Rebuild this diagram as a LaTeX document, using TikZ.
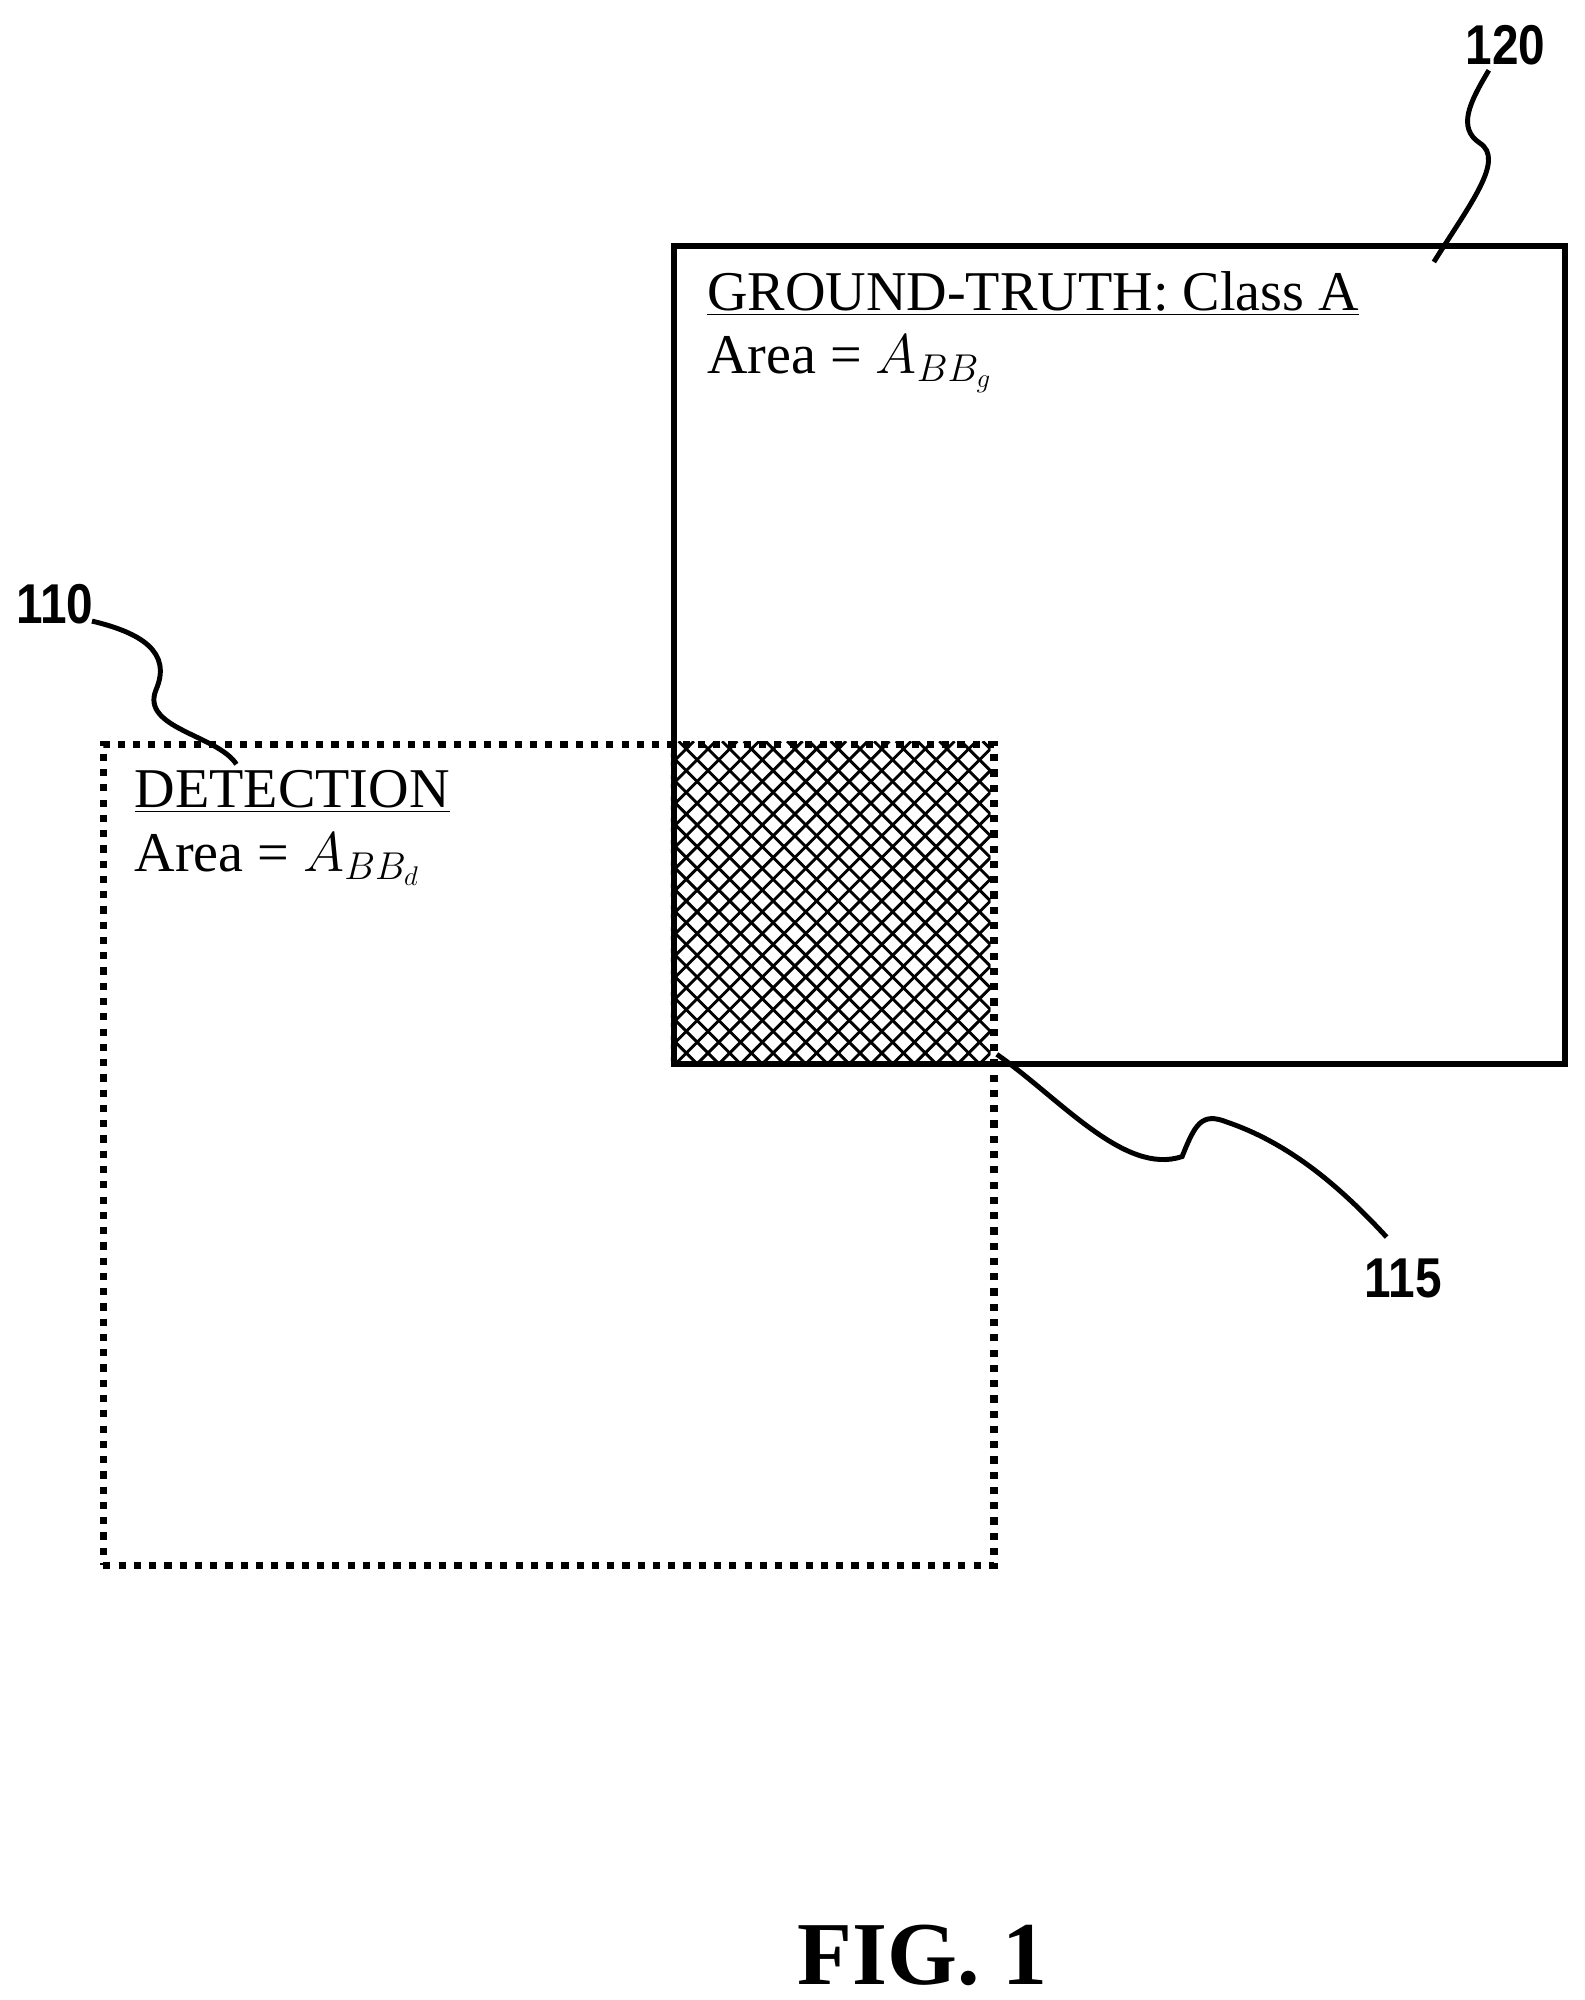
\documentclass[tikz,border=0pt]{standalone}
\usepackage{fontspec}
\setmainfont{Liberation Serif}
\newfontfamily\numfont{Liberation Sans}
\begin{document}
\begin{tikzpicture}[x=0.02cm,y=-0.02cm,
  lbl/.style={anchor=base west,inner sep=0,font=\fontsize{25}{30}\selectfont},
  num/.style={inner sep=0,font=\numfont\bfseries\fontsize{25}{30}\selectfont,xscale=0.85},
  lead/.style={line width=2.2pt}]
\useasboundingbox (0,0) rectangle (1240,1565);
% hatch
\begin{scope}
\clip (525,580) rectangle (775,830);
\foreach \i in {-300,-283,...,300} {
  \draw[line width=1.3pt] (525+\i,580) -- ++(260,260);
  \draw[line width=1.3pt] (775+\i,580) -- ++(-260,260);
}
\end{scope}
\node[draw,line width=2.6pt,minimum width=697*0.02cm,minimum height=640*0.02cm,anchor=north west,inner sep=0] (gt) at (525,190) {};
\node[draw,line width=3.2pt,dash pattern=on 3.2pt off 3.6pt,minimum width=697*0.02cm,minimum height=642*0.02cm,anchor=north west,inner sep=0] (det) at (78,580) {};
\node[lbl] (gtt) at (553,243) {\underline{GROUND-TRUTH: Class A}};
\node[lbl] (gta) at (553,292) {Area = $A_{BB_g}$};
\node[lbl] (dt) at (105,632) {\underline{DETECTION}};
\node[lbl] (da) at (105,682) {Area = $A_{BB_d}$};
\node[num] (n120) at (1178,35) {120};
\node[num] (n110) at (43,473) {110};
\node[num] (n115) at (1098,1000) {115};
\coordinate (e120) at (1122,205);
\coordinate (e110) at (185,598);
\coordinate (e115) at (780,825);
\draw[lead] (1165,55) .. controls (1150,80) and (1140,100) .. (1158,112) .. controls (1178,125) and (1150,160) .. (e120);
\draw[lead] (72,486) .. controls (110,495) and (135,510) .. (122,540) .. controls (110,570) and (170,575) .. (e110);
\draw[lead] (e115) .. controls (830,860) and (880,920) .. (925,905) .. controls (935,880) and (940,870) .. (960,878) .. controls (1010,895) and (1050,930) .. (1085,968);
\node[font=\bfseries\fontsize{40}{48}\selectfont,inner sep=0] (fig) at (722,1530) {FIG. 1};
\end{tikzpicture}
\end{document}
